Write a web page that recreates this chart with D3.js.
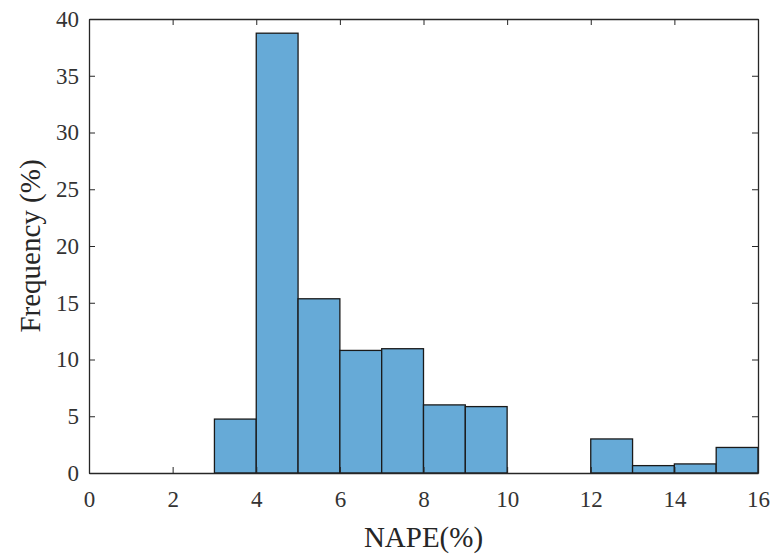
<!DOCTYPE html>
<html>
<head>
<meta charset="utf-8">
<script src="https://cdn.jsdelivr.net/npm/d3@7"></script>
<style>
  body { margin: 0; background: #fff; }
  svg { display: block; }
  svg text { font-family: "Liberation Serif", "Times New Roman", serif !important; }
</style>
</head>
<body>
<svg id="chart" width="776" height="554"></svg>
<script>
// histogram bins (NAPE %) and frequency (%)
const binStarts = [3, 4, 5, 6, 7, 8, 9, 12, 13, 14, 15];
const binWidth = 1;
const freqValues = [4.75, 38.75, 15.35, 10.8, 10.95, 6.0, 5.85, 3.0, 0.65, 0.8, 2.25];
const xTicks = [0, 2, 4, 6, 8, 10, 12, 14, 16];
const yTicks = [0, 5, 10, 15, 20, 25, 30, 35, 40];

const svg = d3.select("#chart");
const m = { left: 89, right: 758, top: 19, bottom: 473 };

const x = d3.scaleLinear().domain([0, 16]).range([m.left, m.right]);
const y = d3.scaleLinear().domain([0, 40]).range([m.bottom, m.top]);

// bars
svg.append("g")
  .selectAll("rect")
  .data(binStarts)
  .enter()
  .append("rect")
  .attr("x", d => x(d))
  .attr("y", (d, i) => y(freqValues[i]))
  .attr("width", d => x(d + binWidth) - x(d))
  .attr("height", (d, i) => y(0) - y(freqValues[i]))
  .attr("fill", "#66aad7")
  .attr("stroke", "#1a1a1a")
  .attr("stroke-width", 1.3);

const tickLen = 6;
const fontSize = 23;

// bottom axis
const xAxis = svg.append("g")
  .attr("transform", `translate(0,${m.bottom})`)
  .call(d3.axisBottom(x).tickValues(xTicks).tickSizeInner(-tickLen).tickSizeOuter(0).tickPadding(18));
// top axis (box)
const xTop = svg.append("g")
  .attr("transform", `translate(0,${m.top})`)
  .call(d3.axisTop(x).tickValues(xTicks).tickSizeInner(-tickLen).tickSizeOuter(0).tickFormat(""));
// left axis
const yAxis = svg.append("g")
  .attr("transform", `translate(${m.left},0)`)
  .call(d3.axisLeft(y).tickValues(yTicks).tickSizeInner(-tickLen).tickSizeOuter(0).tickPadding(10));
// right axis (box)
const yRight = svg.append("g")
  .attr("transform", `translate(${m.right},0)`)
  .call(d3.axisRight(y).tickValues(yTicks).tickSizeInner(-tickLen).tickSizeOuter(0).tickFormat(""));

[xAxis, xTop, yAxis, yRight].forEach(g => {
  g.select(".domain").attr("stroke", "#262626").attr("stroke-width", 1.3);
  g.selectAll(".tick line").attr("stroke", "#262626").attr("stroke-width", 1);
  g.selectAll("text")
    .attr("font-size", fontSize)
    .attr("fill", "#333");
});

// axis labels
svg.append("text")
  .attr("x", (m.left + m.right) / 2)
  .attr("y", 547)
  .attr("text-anchor", "middle")
  .attr("font-size", 29)
  .attr("fill", "#262626")
  .text("NAPE(%)");

svg.append("text")
  .attr("transform", `translate(40,${(m.top + m.bottom) / 2}) rotate(-90)`)
  .attr("text-anchor", "middle")
  .attr("font-size", 29)
  .attr("fill", "#262626")
  .text("Frequency (%)");
</script>
</body>
</html>
